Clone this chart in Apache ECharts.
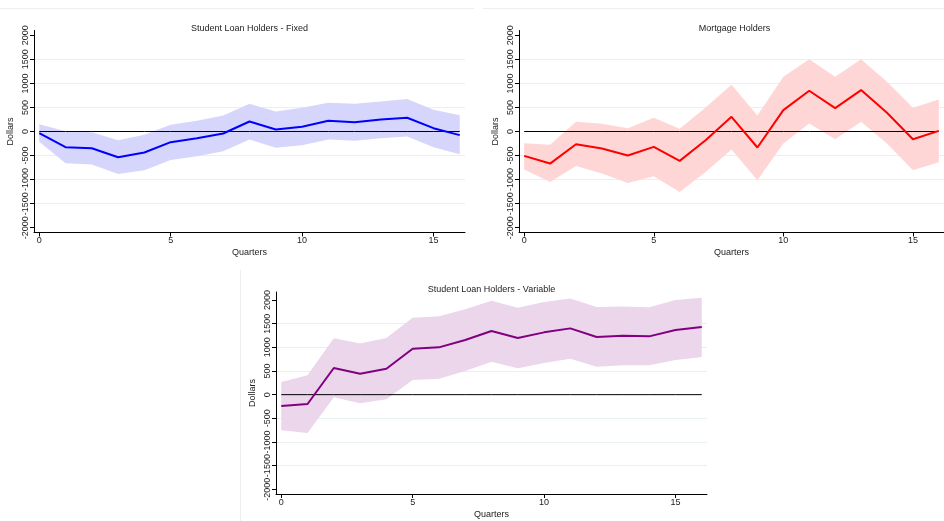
<!DOCTYPE html>
<html>
<head>
<meta charset="utf-8">
<title>Impulse responses</title>
<script src="https://cdn.jsdelivr.net/npm/echarts@6/dist/echarts.min.js"></script>
<style>
  html,body{margin:0;padding:0;background:#fff}
  #chart{width:944px;height:521px}
</style>
</head>
<body>
<div id="chart"></div>
<script>
var quarters = [0,1,2,3,4,5,6,7,8,9,10,11,12,13,14,15,16];
var xTicks = [0,5,10,15];
var yTicks = [-2000,-1500,-1000,-500,0,500,1000,1500,2000];
var gridVals = [-1500,-1000,-500,500,1000,1500];

// Student Loan Holders - Fixed
var fixedMean  = [-35,-326,-347,-535,-437,-222,-139,-42,208,42,97,222,194,250,285,69,-76];
var fixedUpper = [153,7,-14,-180,-69,139,222,333,576,417,493,597,576,625,674,451,340];
var fixedLower = [-215,-660,-688,-882,-806,-590,-514,-410,-167,-340,-285,-167,-194,-139,-104,-326,-472];

// Mortgage Holders
var mortMean  = [-507,-667,-264,-354,-500,-319,-611,-181,306,-333,444,847,486,861,389,-160,14];
var mortUpper = [-243,-278,201,160,69,285,56,500,972,333,1139,1500,1139,1500,1035,493,667];
var mortLower = [-792,-1049,-715,-875,-1069,-931,-1257,-840,-375,-1014,-250,167,-160,201,-250,-806,-639];

// Student Loan Holders - Variable
var varMean  = [-239,-197,563,444,549,972,1000,1155,1345,1197,1317,1401,1218,1246,1232,1366,1430];
var varUpper = [268,408,1190,1084,1197,1627,1655,1803,1986,1838,1958,2035,1852,1866,1845,2000,2049];
var varLower = [-753,-810,-56,-183,-99,310,338,500,697,556,669,760,591,620,620,732,796];

var font = 'Liberation Sans, Arial, sans-serif';

var panels = [
  {title:'Student Loan Holders - Fixed', mean:fixedMean, upper:fixedUpper, lower:fixedLower,
   line:'#0000ff', band:'#d6d6fc', left:34, top:30.5, ymax:2100, ymin:-2100},
  {title:'Mortgage Holders', mean:mortMean, upper:mortUpper, lower:mortLower,
   line:'#ff0000', band:'#ffd6d6', left:519, top:30.5, ymax:2100, ymin:-2100},
  {title:'Student Loan Holders - Variable', mean:varMean, upper:varUpper, lower:varLower,
   line:'#800080', band:'#ebd6eb', left:276, top:292, ymax:2170, ymin:-2100}
];

// confidence band: one polygon through upper points then lower points back
function bandRenderer(color){
  return function(params, api){
    if (params.dataIndex !== 0) return null;
    var n = params.dataInsideLength;
    var pts = [];
    for (var k = 0; k < n; k++) pts.push(api.coord([api.value(0, k), api.value(2, k)]));
    for (var j = n - 1; j >= 0; j--) pts.push(api.coord([api.value(0, j), api.value(1, j)]));
    return {type:'polygon', shape:{points:pts}, style:{fill:color}, silent:true};
  };
}

var option = {
  animation:false,
  backgroundColor:'#fff',
  title:[], grid:[], xAxis:[], yAxis:[], series:[],
  graphic:[
    {type:'line', shape:{x1:0,y1:8.5,x2:474,y2:8.5}, style:{stroke:'#eeeeee',lineWidth:1}},
    {type:'line', shape:{x1:483,y1:8.5,x2:944,y2:8.5}, style:{stroke:'#eeeeee',lineWidth:1}},
    {type:'line', shape:{x1:240.5,y1:270,x2:240.5,y2:521}, style:{stroke:'#eeeeee',lineWidth:1}}
  ]
};

panels.forEach(function(p, i){
  var w = 431, h = 202;
  option.grid.push({left:p.left, top:p.top, width:w, height:h, containLabel:false});
  option.title.push({
    text:p.title, left:p.left + 5 + w/2 - 10, top:Math.round(p.top) - 12, textAlign:'center',
    textStyle:{fontFamily:font, fontSize:9, fontWeight:'normal', color:'#222'}
  });
  option.xAxis.push({
    type:'value', gridIndex:i, min:-0.2, max:16.2,
    name:'Quarters', nameLocation:'middle', nameGap:16,
    nameTextStyle:{fontFamily:font, fontSize:9, color:'#222'},
    axisLine:{show:true, onZero:false, lineStyle:{color:'#000', width:1}},
    axisTick:{show:true, length:4, customValues:xTicks, lineStyle:{color:'#000'}},
    axisLabel:{customValues:xTicks, fontFamily:font, fontSize:9, color:'#222', margin:4},
    splitLine:{show:false}
  });
  option.yAxis.push({
    type:'value', gridIndex:i, min:p.ymin, max:p.ymax,
    name:'Dollars', nameLocation:'middle', nameGap:19,
    nameTextStyle:{fontFamily:font, fontSize:9, color:'#222'},
    axisLine:{show:true, onZero:false, lineStyle:{color:'#000', width:1}},
    axisTick:{show:true, length:4, customValues:yTicks, lineStyle:{color:'#000'}},
    axisLabel:{customValues:yTicks, rotate:90, fontFamily:font, fontSize:9, color:'#222', margin:4,
      hideOverlap:false, showMinLabel:true, showMaxLabel:true,
      formatter:function(v){ return String(v); }},
    splitLine:{show:false}
  });
  option.series.push({
    type:'custom', xAxisIndex:i, yAxisIndex:i, silent:true, z:1, clip:false,
    renderItem:bandRenderer(p.band),
    encode:{x:0, y:[1,2]},
    data:quarters.map(function(q, k){ return [q, p.lower[k], p.upper[k]]; })
  });
  option.series.push({
    type:'line', xAxisIndex:i, yAxisIndex:i,
    data:quarters.map(function(q){ return [q, 0]; }),
    symbol:'none', silent:true, z:3,
    lineStyle:{color:'#000', width:1}
  });
  option.series.push({
    type:'line', xAxisIndex:i, yAxisIndex:i,
    data:quarters.map(function(q, k){ return [q, p.mean[k]]; }),
    symbol:'none', silent:true, z:4,
    lineStyle:{color:p.line, width:2},
    markLine:{
      silent:true, symbol:'none', label:{show:false}, z:0,
      lineStyle:{color:'#e8f0f2', width:1, type:'solid'},
      data:gridVals.map(function(v){ return {yAxis:v}; })
    }
  });
});

var chart = echarts.init(document.getElementById('chart'), null, {renderer:'canvas'});
chart.setOption(option);
</script>
</body>
</html>
